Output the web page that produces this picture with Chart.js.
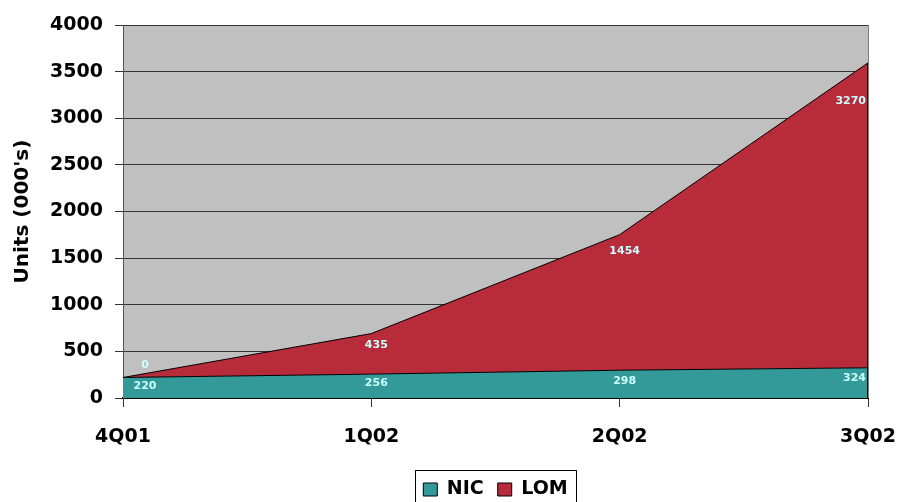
<!DOCTYPE html>
<html>
<head>
<meta charset="utf-8">
<script src="https://cdn.jsdelivr.net/npm/chart.js@4/dist/chart.umd.min.js"></script>
<style>
  html, body { margin: 0; padding: 0; background: #fff; }
  #wrap { width: 902px; height: 502px; position: relative; }
</style>
</head>
<body>
<div id="wrap"><canvas id="unitsCanvas"></canvas></div>
<script>
// quarterly shipments, thousands of units
const quarters = ['4Q01', '1Q02', '2Q02', '3Q02'];
const nicUnits = [220, 256, 298, 324];
const lomUnits = [0, 435, 1454, 3270];
const yTicks = { min: 0, max: 4000, step: 500 };

const FONT = '"DejaVu Sans", "Liberation Sans", Arial, sans-serif';
const NIC_COLOR = '#339999';
const LOM_COLOR = '#B82B3A';
const PLOT_BG = '#C0C0C0';

// nudges (px) for the value labels, below the top edge of each band
const labelNudge = [[9, 9, 11, 10], [-12, 12, 17, 38]];

const plotBackground = {
    id: 'plotBackground',
    beforeDraw(chart) {
        const { ctx, chartArea: a } = chart;
        ctx.save();
        ctx.fillStyle = PLOT_BG;
        ctx.fillRect(a.left, a.top, a.right - a.left, a.bottom - a.top);
        ctx.restore();
    },
    afterDatasetsDraw(chart) {
        const { ctx, chartArea: a } = chart;
        // closing edge of the stacked areas and the plot frame on the right
        const last = chart.getDatasetMeta(1).data.at(-1);
        ctx.save();
        ctx.strokeStyle = '#000';
        ctx.lineWidth = 1;
        ctx.beginPath();
        ctx.moveTo(a.right - 0.5, last.y);
        ctx.lineTo(a.right - 0.5, a.bottom);
        ctx.stroke();
        ctx.strokeStyle = '#808080';
        ctx.beginPath();
        ctx.moveTo(a.right + 0.5, a.top);
        ctx.lineTo(a.right + 0.5, a.bottom);
        ctx.stroke();
        ctx.restore();
    }
};

const valueLabels = {
    id: 'valueLabels',
    afterDatasetsDraw(chart) {
        const { ctx, chartArea: a } = chart;
        ctx.save();
        ctx.font = 'bold 11px ' + FONT;
        ctx.fillStyle = '#CCFFFF';
        ctx.textBaseline = 'middle';
        chart.data.datasets.forEach((ds, di) => {
            const meta = chart.getDatasetMeta(di);
            meta.data.forEach((pt, i) => {
                let x = pt.x + 5;
                ctx.textAlign = 'center';
                if (i === 0) x = a.left + 22;
                if (i === meta.data.length - 1) { x = a.right - 2; ctx.textAlign = 'right'; }
                ctx.fillText(String(ds.data[i]), x, pt.y + labelNudge[di][i]);
            });
        });
        ctx.restore();
    }
};

const legendFrame = {
    id: 'legendFrame',
    afterDraw(chart) {
        const boxes = chart.legend && chart.legend.legendHitBoxes;
        if (!boxes || !boxes.length) return;
        const first = boxes[0], last = boxes[boxes.length - 1];
        const { ctx } = chart;
        ctx.save();
        ctx.strokeStyle = '#000';
        ctx.lineWidth = 1;
        const left = Math.round(first.left - 8) + 0.5;
        const right = Math.round(last.left + last.width + 8) + 0.5;
        const top = Math.round(first.top - 10) + 0.5;
        ctx.strokeRect(left, top, right - left, 60);
        ctx.restore();
    }
};

function initUnitsChart() {
    const ctx = document.getElementById('unitsCanvas');
    new Chart(ctx.getContext('2d'), {
        type: 'line',
        data: {
            labels: quarters,
            datasets: [
                { label: 'NIC', data: nicUnits, backgroundColor: NIC_COLOR, borderColor: '#000', borderWidth: 1, fill: 'origin', pointRadius: 0, tension: 0 },
                { label: 'LOM', data: lomUnits, backgroundColor: LOM_COLOR, borderColor: '#000', borderWidth: 1, fill: '-1', pointRadius: 0, tension: 0 }
            ]
        },
        options: {
            responsive: true,
            maintainAspectRatio: false,
            animation: false,
            layout: { padding: { top: 25, right: 34, left: 0, bottom: -7 } },
            scales: {
                x: {
                    offset: false,
                    grid: { drawOnChartArea: false, drawTicks: true, tickLength: 9, color: '#333' },
                    border: { color: '#000', width: 2 },
                    ticks: { color: '#000', font: { family: FONT, size: 19, weight: 'bold' }, padding: 19, maxRotation: 0 },
                    afterFit(scale) {
                        scale.height = 68;
                        scale.paddingLeft = 0;
                        scale.paddingRight = 0;
                    }
                },
                y: {
                    stacked: true,
                    min: yTicks.min,
                    max: yTicks.max,
                    grid: { color: '#333', tickLength: 8, tickColor: '#333' },
                    border: { color: '#555' },
                    ticks: {
                        stepSize: yTicks.step,
                        color: '#000',
                        font: { family: FONT, size: 19, weight: 'bold' },
                        padding: 12,
                        callback: v => String(v)
                    },
                    title: { display: true, text: "Units (000's)", color: '#000', font: { family: FONT, size: 20, weight: 'bold' }, padding: { top: 11 } },
                    afterFit(scale) { scale.width = 123; }
                }
            },
            plugins: {
                legend: {
                    position: 'bottom',
                    fullSize: false,
                    labels: { color: '#000', boxWidth: 14, boxHeight: 13, padding: 14, font: { family: FONT, size: 19, weight: 'bold' } }
                },
                tooltip: { enabled: false }
            }
        },
        plugins: [plotBackground, valueLabels, legendFrame]
    });
}

document.addEventListener('DOMContentLoaded', initUnitsChart);
</script>
</body>
</html>
